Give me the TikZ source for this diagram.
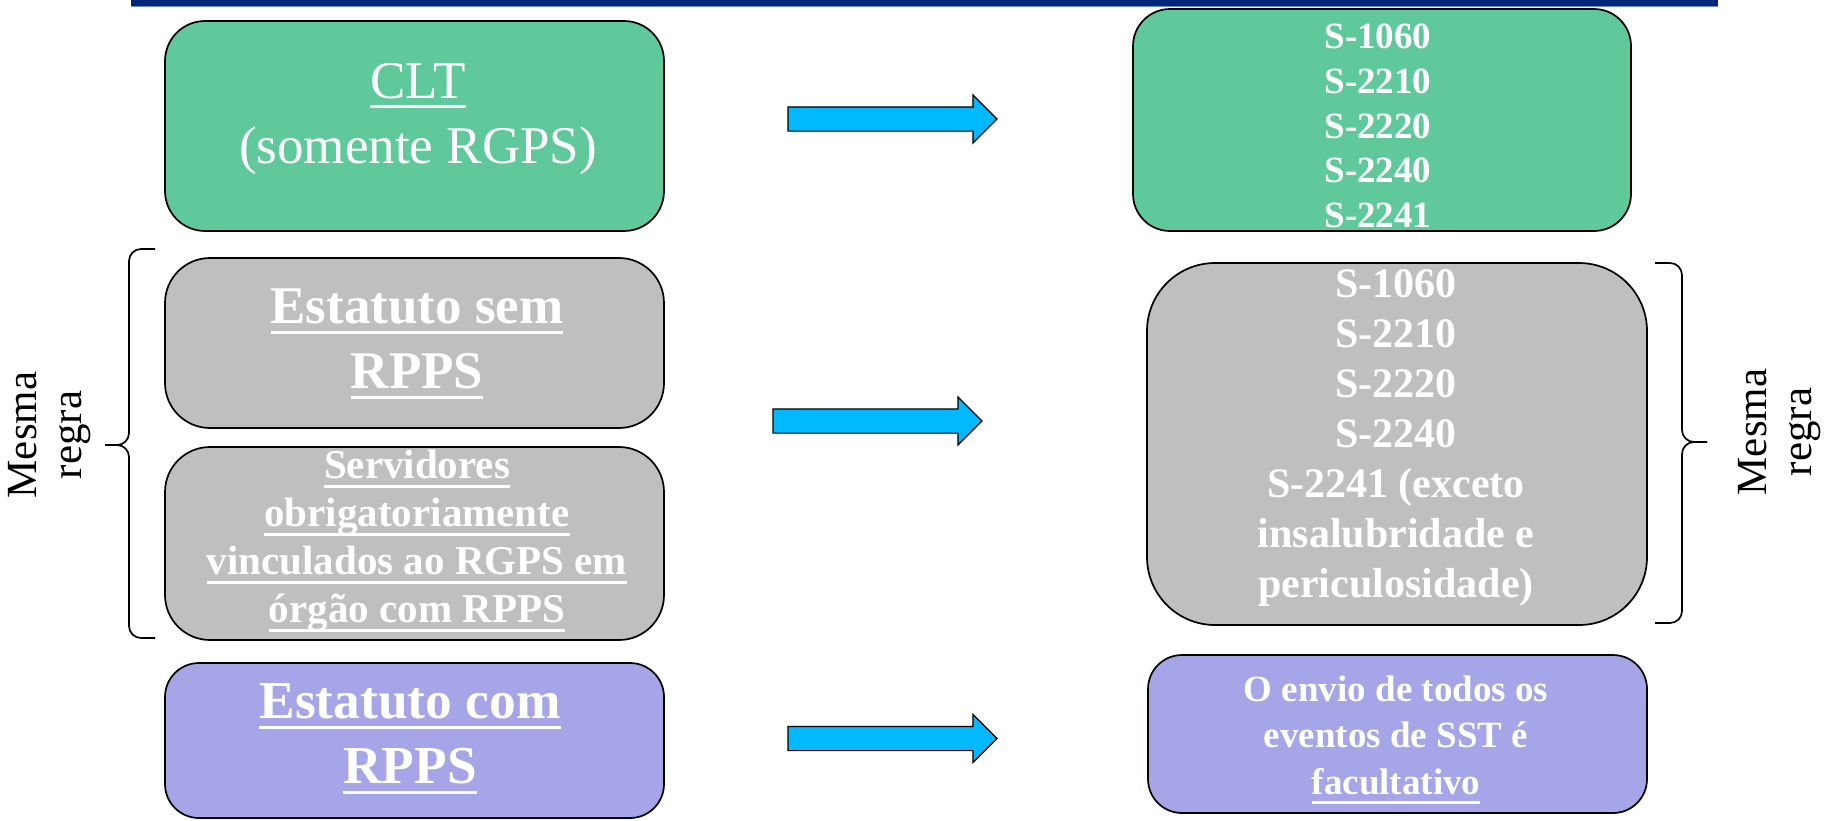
\documentclass[tikz,border=0pt]{standalone}
\usepackage{fontspec}
\setmainfont{Liberation Serif}
\usetikzlibrary{shapes.arrows}
\definecolor{bxgreen}{RGB}{95,201,156}
\definecolor{bxgray}{RGB}{191,191,191}
\definecolor{bxpurple}{RGB}{165,165,232}
\definecolor{arrcyan}{RGB}{0,185,255}
\definecolor{barnavy}{RGB}{0,38,120}
\definecolor{barlight}{RGB}{110,140,205}
\newsavebox{\ulbox}
\newcommand{\ulx}[1]{\sbox{\ulbox}{#1}\rlap{\rule[-5pt]{\wd\ulbox}{1.5pt}}\usebox{\ulbox}}
\begin{document}
\begin{tikzpicture}[x=0.5pt,y=-0.5pt,
  box/.style={draw=black, line width=0.85pt, rectangle, inner sep=0pt},
  txt/.style={text=white, align=center, inner sep=0pt},
  fatarrow/.style={single arrow, draw=black, fill=arrcyan, line width=0.6pt,
    minimum height=104.5pt, minimum width=23.5pt, single arrow head extend=6pt,
    inner xsep=0pt, inner ysep=5.75pt},
  lbl/.style={align=center, inner sep=0pt, rotate=90, font=\fontsize{21.5}{22.5}\selectfont},
  bracepath/.style={draw=black, line width=0.85pt, rounded corners=6pt}]
\useasboundingbox (0,0) rectangle (1831,820);
% top bar
\fill[barnavy] (131,0) rectangle (1718,5.5);
\fill[barlight] (131,5.5) rectangle (1718,6.5);
% boxes
\node[box, fill=bxgreen, minimum width=249.5pt, minimum height=105pt, rounded corners=20pt] (clt) at (414.5,126) {};
\node[box, fill=bxgreen, minimum width=249pt, minimum height=111pt, rounded corners=18.5pt] (evs1) at (1382,120) {};
\node[box, fill=bxgray, minimum width=249.5pt, minimum height=85pt, rounded corners=22.5pt] (est) at (414.5,343) {};
\node[box, fill=bxgray, minimum width=249.5pt, minimum height=96.5pt, rounded corners=22.5pt] (srv) at (414.5,543.5) {};
\node[box, fill=bxgray, minimum width=250pt, minimum height=181pt, rounded corners=34pt] (evs2) at (1397,444) {};
\node[box, fill=bxpurple, minimum width=249.5pt, minimum height=77.5pt, rounded corners=17pt] (rpps) at (414.5,740.5) {};
\node[box, fill=bxpurple, minimum width=249.5pt, minimum height=79pt, rounded corners=17pt] (fac) at (1397.5,734) {};
% arrows
\node[fatarrow] (a1) at (886.5,119) {};
\node[fatarrow] (a2) at (871.5,421) {};
\node[fatarrow] (a3) at (886.5,738.5) {};
% braces
\path[bracepath] (155,249) -- (129,249) -- (129,445) -- (105,445);
\path[bracepath] (105,445) -- (129,445) -- (129,638) -- (155,638);
\path[bracepath] (1655,263) -- (1682,263) -- (1682,442) -- (1707,442);
\path[bracepath] (1707,442) -- (1682,442) -- (1682,623) -- (1655,623);
% texts
\node[txt, font=\fontsize{26.5}{32.5}\selectfont] (tclt) at (418,119) {\ulx{CLT}\\(somente RGPS)};
\node[txt, font=\fontsize{18.5}{22.4}\selectfont\bfseries] (tevs1) at (1378,126) {S-1060\\S-2210\\S-2220\\S-2240\\S-2241};
\node[txt, font=\fontsize{26.5}{32.5}\selectfont\bfseries] (test) at (417,344) {\ulx{Estatuto sem}\\\ulx{RPPS}};
\node[txt, font=\fontsize{20.5}{24}\selectfont\bfseries] (tsrv) at (417,541) {\ulx{Servidores}\\\ulx{obrigatoriamente}\\\ulx{vinculados ao RGPS em}\\\ulx{órgão com RPPS}};
\node[txt, font=\fontsize{21}{25}\selectfont\bfseries] (tevs2) at (1396,438) {S-1060\\S-2210\\S-2220\\S-2240\\S-2241 (exceto\\insalubridade e\\periculosidade)};
\node[txt, font=\fontsize{26.7}{32.5}\selectfont\bfseries] (trpps) at (410,739) {\ulx{Estatuto com}\\\ulx{RPPS}};
\node[txt, font=\fontsize{18.5}{23.25}\selectfont\bfseries] (tfac) at (1396,740) {O envio de todos os\\eventos de SST é\\\ulx{facultativo}};
\node[lbl] (ml) at (50,435) {Mesma\\regra};
\node[lbl] (mr) at (1780,432) {Mesma\\regra};
\end{tikzpicture}
\end{document}
